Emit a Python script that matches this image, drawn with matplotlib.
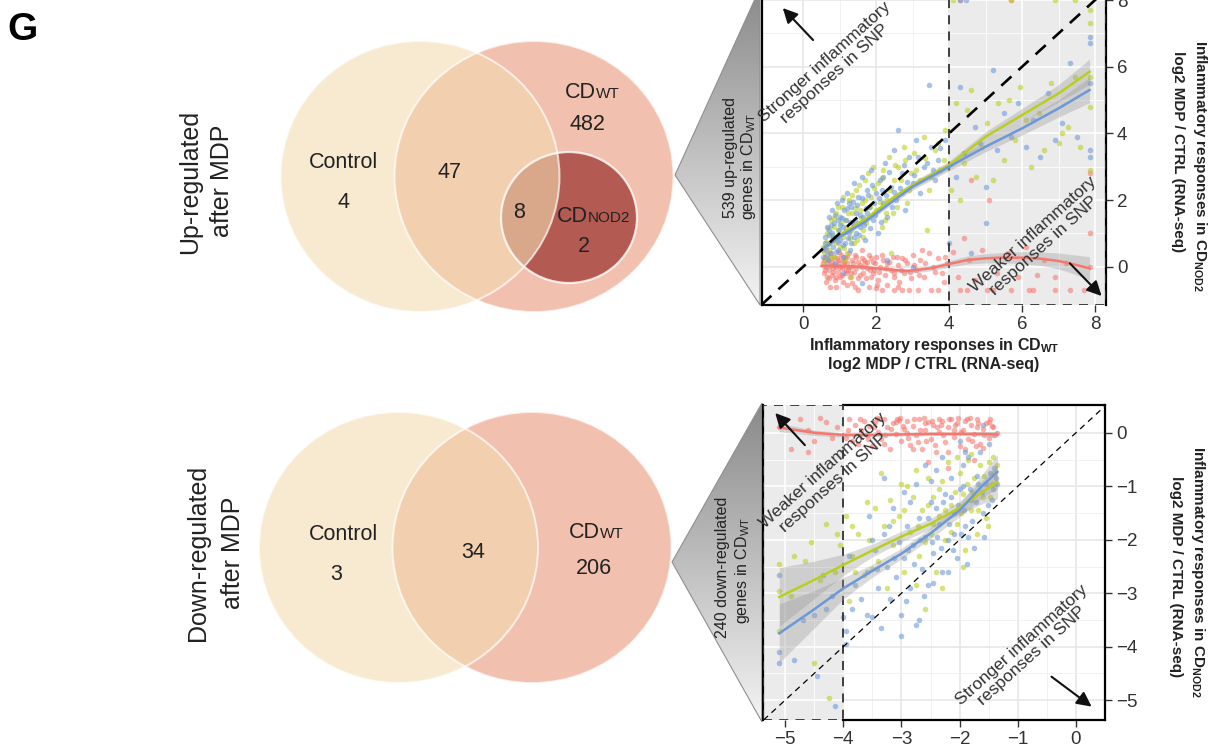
import numpy as np
import matplotlib
matplotlib.use('Agg')
import matplotlib.pyplot as plt
from matplotlib.patches import Ellipse, Polygon, Rectangle
from matplotlib.colors import LinearSegmentedColormap

FONT = 'Liberation Sans'
plt.rcParams['font.family'] = [FONT, 'DejaVu Sans']
plt.rcParams['mathtext.fontset'] = 'custom'
plt.rcParams['mathtext.rm'] = FONT
plt.rcParams['mathtext.bf'] = FONT + ':bold'

# ---------------- data ----------------
# Venn counts
up_venn_counts = [4, 47, 482, 8, 2]          # control only, control&WT, WT only, all three, NOD2 only
down_venn_counts = [3, 34, 206]             # control only, control&WT, WT only
up_total = 539
down_total = 240

# up-regulated genes: x = CD_WT log2 MDP/CTRL, y = CD_NOD2 log2 MDP/CTRL
up_blue = np.array([
    [0.55, 0.3], [0.6, 0.9], [0.62, 0.5], [0.65, 1.2], [0.68, 0.2], [0.7, 0.7], [0.72, 1.5], [0.75, 0.4],
    [0.78, 1.0], [0.8, 1.7], [0.82, 0.6], [0.85, 1.3], [0.88, 0.1], [0.9, 0.9], [0.92, 1.9], [0.95, 0.5],
    [0.98, 1.1], [1.0, 1.5], [1.02, 0.8], [1.05, 2.0], [1.08, 0.3], [1.1, 1.2], [1.12, 1.7], [1.15, 0.7],
    [1.18, 1.4], [1.2, 2.2], [1.25, 1.0], [1.28, 0.5], [1.3, 1.8], [1.35, 1.3], [1.38, 2.5], [1.4, 0.9],
    [1.45, 1.6], [1.5, 2.1], [1.55, 1.2], [1.6, 2.7], [1.65, 1.5], [1.7, 0.8], [1.75, 2.3], [1.8, 1.8],
    [1.85, 2.9], [1.9, 1.4], [2.0, 2.2], [2.05, 1.0], [2.1, 2.6], [2.2, 1.9], [2.25, 3.1], [2.3, 1.5],
    [2.4, 2.4], [2.5, 3.5], [2.55, 2.0], [2.6, 4.1], [2.7, 2.8], [2.8, 1.7], [2.9, 3.3], [3.0, 2.5],
    [3.1, 3.8], [3.2, 2.2], [3.3, 3.0], [3.45, 5.45], [3.5, 3.6], [3.6, 2.6], [3.7, 3.2], [3.9, 3.8],
    [4.0, 0.7], [4.2, 2.7], [4.3, 5.4], [4.4, 3.4], [4.6, 0.4], [4.7, 4.2], [4.85, 3.7], [5.0, 2.4],
    [5.2, 5.9], [5.3, 3.5], [5.5, 4.6], [5.7, 3.9], [5.9, 4.9], [6.1, 3.6], [6.3, 4.4], [6.5, 3.3],
    [6.7, 5.2], [6.9, 3.8], [7.1, 4.3], [7.3, 6.1], [7.5, 3.9], [7.85, 6.9], [7.85, 6.7], [7.85, 5.5],
    [7.85, 3.5], [7.85, 3.3], [4.3, 8.0], [4.45, 8.0], [5.0, 1.3], [1.1, -0.2], [1.6, -0.5], [2.3, 0.2],
    [3.0, 0.0], [0.7, 1.1], [0.95, 1.4], [1.25, 1.9], [1.45, 1.0], [1.75, 1.6], [2.15, 2.3],
    [0.6, 0.7], [0.66, 0.35], [0.72, 0.95], [0.77, 1.25], [0.83, 0.85], [0.87, 1.55], [0.91, 0.45],
    [0.96, 0.75], [1.01, 1.25], [1.06, 1.45], [1.09, 0.65], [1.14, 1.05], [1.19, 1.75], [1.22, 0.85],
    [1.27, 1.35], [1.32, 0.7], [1.37, 1.95], [1.42, 1.4], [1.47, 1.85], [1.52, 0.95], [1.57, 1.55],
    [1.62, 2.05], [1.67, 1.25], [1.72, 1.75], [1.78, 2.15], [1.83, 1.15], [1.88, 2.45], [1.93, 1.9],
    [1.98, 1.55], [2.07, 2.05], [2.12, 1.35], [2.18, 2.7], [2.28, 2.15], [2.35, 2.85], [2.42, 1.8],
    [2.48, 2.25], [2.65, 2.35], [2.75, 3.05], [2.85, 2.55], [3.05, 2.75], [3.15, 3.3], [3.4, 3.1],
    [3.55, 2.9], [3.75, 3.55],
])
up_green = np.array([
    [0.55, 0.6], [0.6, 0.2], [0.65, 1.0], [0.7, 0.5], [0.75, 1.4], [0.8, 0.8], [0.85, 0.3], [0.9, 1.6],
    [0.95, 1.1], [1.0, 0.6], [1.05, 1.8], [1.1, 0.9], [1.15, 1.4], [1.2, 0.4], [1.25, 2.0], [1.3, 1.1],
    [1.35, 1.6], [1.4, 0.7], [1.45, 2.3], [1.5, 1.3], [1.6, 1.9], [1.65, 0.9], [1.7, 2.6], [1.8, 1.5],
    [1.85, 2.1], [1.9, 3.0], [2.0, 1.7], [2.05, 2.5], [2.15, 1.2], [2.2, 2.9], [2.3, 2.0], [2.35, 3.3],
    [2.45, 1.6], [2.5, 2.6], [2.6, 3.0], [2.7, 2.2], [2.75, 3.6], [2.85, 1.9], [2.95, 2.8], [3.05, 3.4],
    [3.2, 2.6], [3.3, 3.9], [3.45, 2.3], [3.6, 3.5], [3.75, 2.9], [3.9, 4.1], [4.05, 2.3], [4.2, 4.9],
    [4.3, 2.0], [4.4, 3.1], [4.5, 4.7], [4.6, 5.3], [4.75, 2.7], [4.9, 3.6], [5.05, 4.3], [5.2, 2.6],
    [5.35, 4.9], [5.5, 3.2], [5.65, 5.0], [5.8, 3.8], [5.95, 5.4], [6.1, 4.4], [6.25, 3.0], [6.45, 4.6],
    [6.6, 3.5], [6.8, 5.5], [7.0, 3.7], [7.1, 4.0], [7.25, 4.2], [7.45, 5.7], [7.6, 3.6], [7.85, 7.7],
    [7.85, 7.3], [7.85, 5.7], [7.85, 4.8], [7.85, 2.9], [5.7, 8.0], [6.9, 8.0], [7.45, 8.0], [4.1, 8.0],
    [1.3, -0.3], [2.4, 0.4], [3.4, 1.1], [0.85, 1.2], [1.15, 0.2], [1.55, 1.7], [2.25, 1.4],
    [0.58, 0.45], [0.63, 0.75], [0.69, 1.15], [0.74, 0.3], [0.79, 0.95], [0.84, 1.45], [0.89, 0.7],
    [0.94, 1.8], [0.99, 0.95], [1.04, 1.3], [1.09, 2.1], [1.13, 0.55], [1.18, 1.15], [1.23, 1.6],
    [1.28, 0.85], [1.33, 2.15], [1.38, 1.25], [1.43, 1.75], [1.48, 0.8], [1.53, 2.45], [1.58, 1.45],
    [1.63, 1.1], [1.68, 2.0], [1.73, 1.3], [1.78, 2.8], [1.83, 1.8], [1.95, 2.35], [2.1, 1.95],
    [2.17, 2.65], [2.27, 1.6], [2.38, 2.3], [2.52, 3.05], [2.58, 1.8], [2.68, 2.6], [2.8, 3.2],
    [2.9, 2.3], [3.1, 2.9], [3.35, 3.25], [3.5, 2.7], [3.7, 3.7], [3.85, 3.2],
])
up_red = np.array([
    [0.55, 0.1], [0.58, -0.2], [0.6, 0.3], [0.63, 0.0], [0.65, -0.3], [0.68, 0.2], [0.7, -0.1], [0.73, 0.4],
    [0.75, 0.05], [0.78, -0.25], [0.8, 0.15], [0.83, -0.05], [0.85, 0.3], [0.88, -0.4], [0.9, 0.0], [0.93, 0.25],
    [0.95, -0.15], [0.98, 0.1], [1.0, -0.3], [1.03, 0.35], [1.05, -0.05], [1.08, 0.2], [1.1, -0.45], [1.13, 0.05],
    [1.15, 0.3], [1.18, -0.2], [1.2, 0.1], [1.23, -0.1], [1.25, 0.4], [1.28, -0.3], [1.3, 0.0], [1.35, 0.2],
    [1.4, -0.15], [1.45, 0.3], [1.5, -0.35], [1.55, 0.05], [1.6, 0.25], [1.65, -0.2], [1.7, 0.1], [1.75, -0.05],
    [1.8, 0.35], [1.85, -0.3], [1.9, 0.15], [1.95, -0.1], [2.0, 0.3], [2.05, -0.4], [2.1, 0.0], [2.2, 0.2],
    [2.25, -0.25], [2.3, 0.1], [2.4, -0.1], [2.45, 0.3], [2.5, -0.3], [2.6, 0.05], [2.7, 0.25], [2.75, -0.2],
    [2.85, 0.1], [2.95, -0.35], [3.0, 0.35], [3.1, -0.1], [3.2, 0.2], [3.3, -0.3], [3.45, 0.4], [3.55, 0.0],
    [3.7, 0.25], [3.8, -0.2], [3.95, 0.1], [4.1, 0.45], [4.25, -0.3], [4.4, 0.85], [4.55, 0.2], [4.7, -0.4],
    [4.9, 0.5], [5.1, 2.0], [5.3, -0.2], [5.6, 0.4], [5.9, -0.3], [6.1, 0.6], [6.4, -0.25], [6.6, 0.2],
    [6.9, -0.3], [7.2, 0.1], [7.85, 2.8], [7.85, 1.0], [7.85, 0.0], [4.6, 2.6], [5.7, 8.0], [4.3, 8.0],
    [1.5, -0.7], [2.15, -0.7], [2.5, -0.7], [2.7, -0.7], [2.9, -0.7], [3.15, -0.7], [3.5, -0.7], [3.7, -0.7],
    [4.3, -0.7], [4.5, -0.7], [5.05, -0.7], [5.2, -0.7], [5.7, -0.7], [6.2, -0.7], [6.3, -0.7], [6.9, -0.7],
    [7.3, -0.7], [7.7, -0.7], [0.9, -0.6], [1.2, -0.55], [1.8, -0.6], [2.3, -0.55], [0.62, -0.45], [0.97, 0.45],
    [1.33, -0.5], [1.62, 0.5], [2.02, -0.55], [2.62, -0.45], [3.25, 0.5], [3.85, -0.45],
    [0.57, 0.2], [0.61, -0.1], [0.66, 0.12], [0.71, -0.35], [0.76, 0.25], [0.81, -0.15], [0.86, 0.05],
    [0.91, -0.3], [0.96, 0.2], [1.01, 0.0], [1.06, -0.25], [1.11, 0.15], [1.16, -0.1], [1.21, 0.3],
    [1.26, 0.0], [1.31, -0.2], [1.36, 0.1], [1.41, 0.35], [1.46, -0.05], [1.51, 0.15], [1.56, -0.25],
    [1.61, 0.0], [1.66, 0.2], [1.71, -0.35], [1.76, 0.15], [1.82, -0.1], [1.87, 0.25], [1.92, -0.2],
    [1.97, 0.1], [2.08, -0.15], [2.17, 0.35], [2.28, -0.05], [2.36, 0.15], [2.48, -0.2], [2.58, 0.3],
    [2.68, -0.1], [2.8, 0.2], [2.92, -0.15], [3.05, 0.05], [3.18, -0.25], [3.35, 0.1], [3.6, -0.15],
    [3.9, 0.3], [0.74, -0.6], [1.42, -0.6], [2.0, -0.65], [2.6, -0.6],
])

# loess fits (x, fit, half-width of the grey band)
up_fit_x = [0.5, 1.0, 1.7, 2.5, 3.0, 4.0, 5.0, 6.0, 7.0, 7.85]
up_blue_fit = [0.5, 0.9, 1.35, 2.0, 2.4, 3.0, 3.6, 4.15, 4.75, 5.3]
up_green_fit = [0.5, 0.95, 1.42, 2.1, 2.45, 3.05, 3.9, 4.55, 5.2, 5.85]
up_fit_ci = [0.1, 0.06, 0.06, 0.08, 0.1, 0.12, 0.15, 0.2, 0.26, 0.38]
up_red_fit_x = [0.5, 1.0, 1.5, 2.0, 2.5, 2.85, 3.5, 4.0, 4.5, 5.0, 5.4, 6.0, 6.5, 7.0, 7.3, 7.85]
up_red_fit = [0.02, 0.02, 0.0, -0.05, -0.1, -0.13, -0.05, 0.08, 0.2, 0.25, 0.27, 0.27, 0.24, 0.17, 0.1, -0.05]
up_red_ci = [0.08, 0.05, 0.05, 0.05, 0.06, 0.07, 0.08, 0.1, 0.12, 0.14, 0.15, 0.18, 0.2, 0.24, 0.27, 0.35]

# down-regulated genes
down_blue = np.array([
    [-5.1, -2.65], [-5.1, -4.1], [-5.1, -4.3], [-4.85, -4.25], [-4.5, -3.4], [-4.45, -4.55], [-4.15, -5.1],
    [-4.2, -3.05], [-4.35, -2.65], [-3.95, -3.7], [-3.95, -3.95], [-3.9, -2.3], [-3.85, -3.3], [-3.8, -2.85],
    [-3.7, -3.1], [-3.6, -2.6], [-3.55, -1.55], [-3.5, -3.45], [-3.45, -2.2], [-3.4, -2.9], [-3.35, -3.65],
    [-3.3, -1.9], [-3.25, -2.5], [-3.2, -3.1], [-3.15, -1.4], [-3.1, -2.7], [-3.05, -2.05], [-3.0, -3.4],
    [-2.95, -2.35], [-2.9, -1.75], [-2.85, -2.9], [-2.8, -2.1], [-2.75, -3.6], [-2.7, -1.6], [-2.65, -2.55],
    [-2.6, -1.95], [-2.55, -2.85], [-2.5, -1.3], [-2.45, -2.25], [-2.4, -0.7], [-2.35, -1.7], [-2.3, -2.6],
    [-2.25, -1.15], [-2.2, -2.0], [-2.15, -0.85], [-2.1, -1.5], [-2.05, -2.35], [-2.0, -1.05], [-1.95, -0.6],
    [-1.9, -1.75], [-1.85, -0.45], [-1.8, -1.25], [-1.75, -2.15], [-1.7, -0.8], [-1.65, -0.35], [-1.6, -1.5],
    [-1.55, -0.95], [-1.5, -0.2], [-1.45, -1.25], [-1.4, -0.65], [-1.35, -0.95], [-2.75, -0.95], [-2.6, -0.6],
    [-2.5, -0.9], [-2.3, -0.45], [-2.0, -0.15], [-1.9, -0.35], [-1.6, 0.15], [-3.0, -3.8], [-2.7, -3.5],
    [-2.45, -2.8], [-2.2, -2.6], [-2.1, -1.9], [-1.85, -1.95], [-2.85, -1.3], [-3.3, -0.85], [-2.95, -1.1],
    [-3.6, -3.4], [-4.3, -3.3], [-4.7, -3.5], [-4.0, -3.45], [-2.4, -1.4], [-2.15, -1.2], [-1.95, -1.0],
    [-2.55, -1.6], [-2.48, -2.05], [-2.38, -1.95], [-2.28, -1.3], [-2.18, -1.7], [-2.12, -2.2], [-2.02, -1.35],
    [-1.98, -1.9], [-1.92, -1.45], [-1.82, -1.05], [-1.78, -1.65], [-1.72, -1.3], [-1.68, -0.95], [-1.62, -1.1],
    [-1.52, -1.35], [-1.48, -0.75], [-1.42, -1.05], [-1.38, -0.85], [-2.68, -2.0], [-2.78, -2.45], [-2.88, -2.2],
    [-3.12, -2.35], [-3.22, -1.75], [-3.42, -2.55], [-2.62, -3.05], [-2.32, -2.15], [-1.88, -2.45], [-1.58, -1.95],
    [-2.92, -3.15], [-3.5, -2.0],
])
down_green = np.array([
    [-5.1, -2.45], [-5.1, -2.95], [-5.1, -3.7], [-4.9, -3.05], [-4.85, -2.3], [-4.65, -2.4], [-4.55, -2.05],
    [-4.5, -4.3], [-4.3, -1.7], [-4.25, -4.95], [-4.15, -2.6], [-4.05, -2.1], [-3.95, -1.55], [-3.9, -3.15],
    [-3.85, -2.3], [-3.75, -1.9], [-3.65, -2.65], [-3.55, -2.0], [-3.45, -1.4], [-3.4, -2.4], [-3.35, -0.75],
    [-3.3, -1.75], [-3.2, -1.25], [-3.15, -2.1], [-3.05, -1.55], [-2.95, -2.6], [-2.9, -1.0], [-2.85, -1.85],
    [-2.8, -1.2], [-2.7, -2.3], [-2.65, -1.45], [-2.6, -3.3], [-2.55, -0.85], [-2.5, -1.9], [-2.45, -1.2],
    [-2.4, -2.6], [-2.35, -1.55], [-2.3, -0.9], [-2.25, -2.0], [-2.2, -0.55], [-2.15, -1.35], [-2.05, -1.7],
    [-2.0, -0.75], [-1.95, -1.15], [-1.9, -2.2], [-1.85, -0.5], [-1.8, -1.45], [-1.75, -0.85], [-1.7, -1.9],
    [-1.65, -0.6], [-1.6, -1.2], [-1.5, -0.55], [-1.45, -0.95], [-1.4, -0.75], [-1.35, -0.6], [-3.6, -1.3],
    [-3.0, -0.95], [-2.75, -0.7], [-2.05, -0.45], [-1.55, -1.6], [-4.4, -2.75], [-3.8, -2.6], [-3.25, -2.9],
    [-2.55, -1.35], [-2.45, -1.7], [-2.35, -1.05], [-2.25, -1.45], [-2.15, -1.85], [-2.08, -1.1], [-1.98, -1.5],
    [-1.88, -0.95], [-1.78, -1.1], [-1.68, -1.45], [-1.58, -0.8], [-1.48, -1.2], [-1.42, -0.45], [-2.72, -1.75],
    [-2.95, -1.45], [-3.15, -1.65], [-3.5, -2.55], [-3.85, -1.75], [-4.1, -1.9], [-2.6, -2.05], [-1.95, -2.5],
    [-2.3, -2.9], [-2.75, -2.85], [-1.8, -0.4], [-1.52, -1.75],
])
down_red = np.array([
    [-5.1, 0.1], [-4.9, -0.3], [-4.75, 0.25], [-4.6, 0.05], [-4.5, -0.15], [-4.3, 0.2], [-4.1, 0.1],
    [-3.95, -0.1], [-3.9, 0.25], [-3.8, 0.15], [-3.75, -0.2], [-3.7, 0.05], [-3.65, 0.22], [-3.6, -0.05],
    [-3.55, 0.12], [-3.5, -0.25], [-3.45, 0.2], [-3.4, 0.02], [-3.35, -0.12], [-3.3, 0.25], [-3.25, 0.1],
    [-3.2, -0.3], [-3.15, 0.18], [-3.1, -0.02], [-3.05, 0.24], [-3.0, -0.15], [-2.95, 0.08], [-2.9, 0.22],
    [-2.85, -0.22], [-2.8, 0.12], [-2.75, -0.05], [-2.7, 0.25], [-2.65, -0.3], [-2.6, 0.05], [-2.55, 0.2],
    [-2.5, -0.12], [-2.45, 0.15], [-2.4, -0.35], [-2.35, 0.02], [-2.3, 0.22], [-2.25, -0.18], [-2.2, 0.1],
    [-2.15, 0.25], [-2.1, -0.08], [-2.05, 0.18], [-2.0, -0.25], [-1.95, 0.05], [-1.9, 0.22], [-1.85, -0.12],
    [-1.8, 0.15], [-1.75, -0.02], [-1.7, 0.25], [-1.65, -0.2], [-1.6, 0.08], [-1.55, 0.18], [-1.5, -0.1],
    [-1.45, 0.12], [-1.4, -0.05], [-1.35, 0.0], [-3.85, -0.15], [-3.3, -0.2], [-2.9, 0.0], [-2.6, 0.18],
    [-2.35, 0.25], [-2.1, 0.05], [-1.9, -0.3], [-1.7, 0.1], [-1.5, 0.2], [-4.6, -0.35], [-3.1, 0.2],
    [-2.8, -0.3], [-2.2, -0.35], [-1.6, -0.28],
    [-3.92, 0.05], [-3.72, 0.25], [-3.58, -0.12], [-3.48, 0.1], [-3.38, 0.25], [-3.28, -0.05], [-3.18, 0.08],
    [-3.08, 0.25], [-2.98, 0.12], [-2.88, -0.1], [-2.78, 0.25], [-2.68, 0.05], [-2.58, -0.15], [-2.48, 0.22],
    [-2.38, 0.1], [-2.28, -0.05], [-2.18, 0.25], [-2.08, 0.15], [-1.98, 0.02], [-1.88, 0.25], [-1.78, -0.15],
    [-1.68, 0.18], [-1.58, -0.05], [-1.48, 0.25], [-1.42, 0.1], [-2.62, 0.28], [-2.42, -0.22], [-2.02, 0.28],
    [-1.82, 0.28], [-3.02, 0.28], [-2.72, -0.18], [-2.32, 0.15], [-1.72, -0.25], [-3.42, 0.28], [-4.4, 0.28],
    [-4.2, -0.1], [-5.0, 0.25], [-2.55, -0.55], [-2.2, -0.65], [-1.75, -0.5],
])

down_fit_x = [-5.1, -4.5, -4.0, -3.5, -3.0, -2.5, -2.0, -1.6, -1.35]
down_blue_fit = [-3.75, -3.3, -2.91, -2.58, -2.26, -1.88, -1.45, -0.98, -0.73]
down_green_fit = [-3.07, -2.75, -2.47, -2.2, -1.94, -1.7, -1.4, -1.1, -0.92]
down_fit_ci = [0.55, 0.35, 0.2, 0.12, 0.1, 0.1, 0.12, 0.22, 0.32]
down_red_fit = [0.1, 0.0, -0.04, -0.04, -0.03, -0.02, -0.02, -0.02, -0.03]
down_red_ci = [0.08, 0.05, 0.04, 0.03, 0.03, 0.03, 0.03, 0.04, 0.06]

RED, GREEN, BLUE = '#F8766D', '#B9CE1E', '#6C98D8'
CTRL_C, WT_C, NOD2_C = '#F3DCB1', '#F2C0AE', '#B35A52'
TXT = '#222222'

fig = plt.figure(figsize=(12.12, 7.49), dpi=100)

# ---------------- background layer in pixel units ----------------
ax0 = fig.add_axes([0, 0, 1, 1])
ax0.axis('off')

ax0.text(7, 30, 'G', fontsize=28, fontweight='bold', va='center', ha='left')


def cd_label(x, y, sub):
    # "CD" with a small-caps style suffix sitting on the same baseline
    ax0.text(x, y, 'CD', fontsize=15.5, color=TXT, ha='right', va='baseline')
    ax0.text(x, y, sub, fontsize=11, color=TXT, ha='left', va='baseline')


def venn(cy, ctrl_x, wt_x, inner=None):
    w, h = 279, 271
    ax0.add_patch(Ellipse((wt_x, cy), w, h, fc=WT_C, lw=0, zorder=1))
    if inner is not None:
        ax0.add_patch(Ellipse(inner, 136, 131, fc=NOD2_C, lw=0, zorder=1.1))
    ax0.add_patch(Ellipse((ctrl_x, cy), w, h, fc=CTRL_C, alpha=0.6, lw=0, zorder=1.2))
    ax0.add_patch(Ellipse((wt_x, cy), w, h, fc='none', ec='white', lw=1.4, alpha=0.7, zorder=1.3))
    ax0.add_patch(Ellipse((ctrl_x, cy), w, h, fc='none', ec='white', lw=1.4, alpha=0.7, zorder=1.3))
    if inner is not None:
        ax0.add_patch(Ellipse(inner, 136, 131, fc='none', ec='white', lw=1.6, alpha=0.8, zorder=1.3))


def num(x, y, v):
    ax0.text(x, y, str(v), fontsize=15.5, color=TXT, ha='center', va='center')


venn(176.5, 420, 534, inner=(569, 217.5))
ax0.text(343, 162, 'Control', fontsize=15.5, color=TXT, ha='center', va='center')
num(344, 202, up_venn_counts[0])
num(450, 173, up_venn_counts[1])
cd_label(596, 97.5, 'WT')
num(587, 125, up_venn_counts[2])
num(519.5, 212, up_venn_counts[3])
cd_label(588, 222.5, 'NOD2')
num(584, 247, up_venn_counts[4])

venn(547.5, 398.5, 532)
ax0.text(343, 534, 'Control', fontsize=15.5, color=TXT, ha='center', va='center')
num(336, 575, down_venn_counts[0])
num(473, 552, down_venn_counts[1])
cd_label(600, 537.5, 'WT')
num(594, 568, down_venn_counts[2])

# row titles
for x, y, s in [(190, 182, 'Up-regulated'), (222, 181, 'after MDP'),
                (198, 553, 'Down-regulated'), (233, 553, 'after MDP')]:
    ax0.text(x, y, s, fontsize=18, color=TXT, rotation=90, ha='center', va='center')

# grey zoom wedges
wedge_cmap = LinearSegmentedColormap.from_list('wedge', ['#8a8a8a', '#f3f3f3'])
grad = np.linspace(0, 1, 256).reshape(-1, 1)
for apex, top, bot in [((675, 175), (760, -12), (760, 305)), ((672, 562), (762, 403), (762, 722))]:
    poly = Polygon([apex, top, bot], closed=True, fc='none', ec='#8f8f8f', lw=0.8, zorder=2.1)
    ax0.add_patch(poly)
    im = ax0.imshow(grad, extent=(apex[0], top[0], bot[1], top[1]), cmap=wedge_cmap,
                    aspect='auto', zorder=2, interpolation='bilinear')
    im.set_clip_path(poly)

for x, y, s in [(730, 158, '%d up-regulated' % up_total), (749, 166, r'genes in CD$_{\mathrm{WT}}$'),
                (723, 567, '%d down-regulated' % down_total), (742, 570, r'genes in CD$_{\mathrm{WT}}$')]:
    ax0.text(x, y, s, fontsize=11.5, rotation=90, ha='center', va='center', color=TXT)

# right-hand y titles
for x1, x2, y1, y2 in [(1200, 1178, 166, 152), (1198, 1176, 572, 577)]:
    ax0.text(x1, y1, r'Inflammatory responses in CD$_{\mathbf{NOD2}}$', fontsize=11, fontweight='bold',
             rotation=270, ha='center', va='center', color=TXT)
    ax0.text(x2, y2, 'log2 MDP / CTRL (RNA-seq)', fontsize=11, fontweight='bold',
             rotation=270, ha='center', va='center', color=TXT)

ax0.set_xlim(0, 1212)
ax0.set_ylim(749, 0)


# ---------------- scatter panels ----------------
def base_panel(ax, xlim, ylim, major_x, minor_x, major_y, minor_y, shade):
    ax.set_xlim(*xlim)
    ax.set_ylim(*ylim)
    for v in major_x:
        ax.axvline(v, color='#e6e6e6', lw=1.1, zorder=0)
    for v in minor_x:
        ax.axvline(v, color='#efefef', lw=0.6, zorder=0)
    for v in major_y:
        ax.axhline(v, color='#e6e6e6', lw=1.1, zorder=0)
    for v in minor_y:
        ax.axhline(v, color='#efefef', lw=0.6, zorder=0)
    s0, s1 = shade
    ax.axvspan(s0, s1, color='#ebebeb', lw=0, zorder=0.5)
    ax.vlines([v for v in major_x if s0 < v < s1], ylim[0], ylim[1], color='white', lw=1.1, zorder=0.6)
    ax.vlines([v for v in minor_x if s0 < v < s1], ylim[0], ylim[1], color='white', lw=0.6, zorder=0.6)
    ax.hlines(major_y, s0, s1, color='white', lw=1.1, zorder=0.6)
    ax.hlines(minor_y, s0, s1, color='white', lw=0.6, zorder=0.6)
    ax.add_patch(Rectangle((s0, ylim[0]), s1 - s0, ylim[1] - ylim[0], fill=False, ec='#333333',
                           lw=1.3, ls=(0, (5, 4)), zorder=2.6))
    ax.set_xticks(major_x)
    ax.set_yticks(major_y)
    ax.yaxis.tick_right()
    ax.tick_params(direction='out', length=5, width=1, color='#333333', labelcolor='#333333',
                   labelsize=13.5, pad=3)
    for sp in ax.spines.values():
        sp.set_linewidth(1.6)
        sp.set_color('black')


def fits(ax, fx, fy, ci, color):
    fx = np.asarray(fx)
    fy = np.asarray(fy)
    ci = np.asarray(ci)
    ax.fill_between(fx, fy - ci, fy + ci, color='#999999', alpha=0.35, lw=0, zorder=3)
    ax.plot(fx, fy, color=color, lw=1.8, zorder=3.5)


def arrow(ax, tail, head):
    ax.annotate('', xy=head, xytext=tail,
                arrowprops=dict(arrowstyle='-|>', color='#111111', lw=1.5, mutation_scale=22,
                                shrinkA=0, shrinkB=0), zorder=5)


def note(ax, x, y, s):
    ax.text(x, y, s, rotation=42, rotation_mode='anchor', ha='center', va='center', fontsize=12.5,
            color='#333333', linespacing=1.05, zorder=5)


# upper panel
ax1 = fig.add_axes([762 / 1212, 0.5928, 344 / 1212, 0.4227])
up_xlim, up_ylim = (-1.13, 8.3), (-1.15, 8.35)
base_panel(ax1, up_xlim, up_ylim, [0, 2, 4, 6, 8], [1, 3, 5, 7], [0, 2, 4, 6, 8], [1, 3, 5, 7], (4, up_xlim[1]))
ax1.spines['bottom'].set_bounds(up_xlim[0], 4)
for pts, c in [(up_red, RED), (up_green, GREEN), (up_blue, BLUE)]:
    ax1.scatter(pts[:, 0], pts[:, 1], s=16, color=c, alpha=0.58, lw=0, zorder=2)
fits(ax1, up_red_fit_x, up_red_fit, up_red_ci, RED)
fits(ax1, up_fit_x, up_green_fit, up_fit_ci, GREEN)
fits(ax1, up_fit_x, up_blue_fit, up_fit_ci, BLUE)
ax1.plot(up_ylim, up_ylim, color='black', lw=1.9, ls=(0, (5.2, 3.6)), zorder=4)
arrow(ax1, (0.27, 6.8), (-0.56, 7.76))
arrow(ax1, (7.31, 0.1), (8.18, -0.88))
note(ax1, 0.72, 5.95, 'Stronger inflammatory\nresponses in SNP')
note(ax1, 6.44, 0.8, 'Weaker inflammatory\nresponses in SNP')
ax1.set_xlabel('Inflammatory responses in CD$_{\\mathbf{WT}}$\nlog2 MDP / CTRL (RNA-seq)',
               fontsize=11.5, fontweight='bold', color=TXT, labelpad=2, linespacing=1.15)

# lower panel
ax2 = fig.add_axes([763 / 1212, 29 / 749, 342 / 1212, 315 / 749])
dn_xlim, dn_ylim = (-5.38, 0.5), (-5.37, 0.52)
base_panel(ax2, dn_xlim, dn_ylim, [-5, -4, -3, -2, -1, 0], [-4.5, -3.5, -2.5, -1.5, -0.5],
           [0, -1, -2, -3, -4, -5], [-0.5, -1.5, -2.5, -3.5, -4.5], (dn_xlim[0], -4))
ax2.spines['top'].set_bounds(-4, dn_xlim[1])
ax2.spines['bottom'].set_bounds(-4, dn_xlim[1])
for pts, c in [(down_red, RED), (down_green, GREEN), (down_blue, BLUE)]:
    ax2.scatter(pts[:, 0], pts[:, 1], s=16, color=c, alpha=0.58, lw=0, zorder=2)
fits(ax2, down_fit_x, down_red_fit, down_red_ci, RED)
fits(ax2, down_fit_x, down_green_fit, down_fit_ci, GREEN)
fits(ax2, down_fit_x, down_blue_fit, down_fit_ci, BLUE)
ax2.plot(dn_ylim, dn_ylim, color='black', lw=0.9, ls=(0, (4.8, 3.8)), zorder=4)
arrow(ax2, (-4.66, -0.23), (-5.17, 0.37))
arrow(ax2, (-0.42, -4.56), (0.27, -5.12))
note(ax2, -4.26, -0.82, 'Weaker inflammatory\nresponses in SNP')
note(ax2, -0.85, -4.07, 'Stronger inflammatory\nresponses in SNP')

fig.savefig('out.png', dpi=100)
